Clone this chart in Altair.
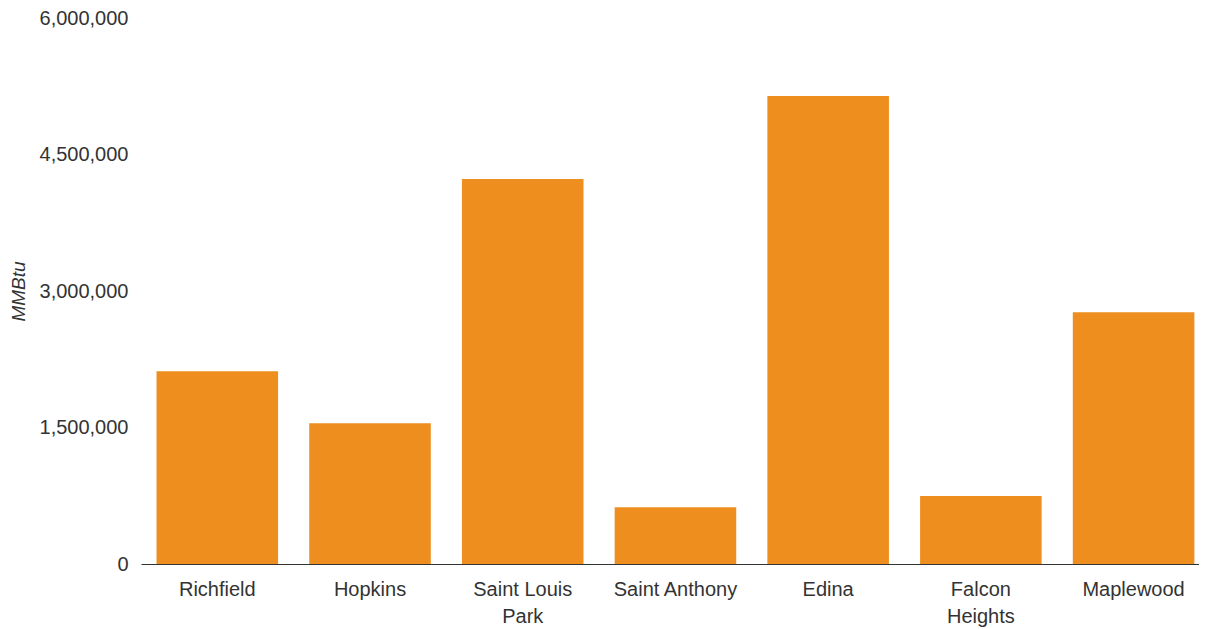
import altair as alt
import pandas as pd

cities = ["Richfield", "Hopkins", "Saint Louis Park", "Saint Anthony", "Edina", "Falcon Heights", "Maplewood"]
mmbtu = [2118000, 1546000, 4231000, 623000, 5143000, 747000, 2766000]
y_ticks = [0, 1500000, 3000000, 4500000, 6000000]

df = pd.DataFrame({"city": cities, "mmbtu": mmbtu})

label_expr = ("datum.value == 'Saint Louis Park' ? ['Saint Louis', 'Park'] : "
              "datum.value == 'Falcon Heights' ? ['Falcon', 'Heights'] : datum.value")

chart = alt.Chart(df).mark_bar(color="#ED8E1F").encode(
    x=alt.X("city:N", sort=cities, title=None,
            scale=alt.Scale(paddingInner=0.204, paddingOuter=0.066, align=0.77),
            axis=alt.Axis(labelAngle=0, ticks=False, domain=True, domainColor="#333333",
                          domainWidth=1, labelColor="#333333", labelFont="Liberation Sans",
                          labelFontSize=20, labelPadding=15, labelLineHeight=27,
                          labelExpr=label_expr, grid=False)),
    y=alt.Y("mmbtu:Q", title="MMBtu",
            scale=alt.Scale(domain=[0, 6000000], nice=False),
            axis=alt.Axis(values=y_ticks, format=",.0f",
                          ticks=False, domain=False, grid=False,
                          labelColor="#333333", labelFont="Liberation Sans",
                          labelFontSize=20, labelPadding=13,
                          titleFont="Liberation Sans", titleFontSize=19,
                          titleFontStyle="italic", titleFontWeight="normal",
                          titleColor="#333333", titleX=-123, titleY=273,
                          titleAngle=270, titleAlign="center", titleBaseline="middle")),
).properties(
    width=1058, height=546,
    autosize=alt.AutoSizeParams(type="none"),
    padding={"left": 133, "top": 10, "right": 0, "bottom": 64},
).configure_view(stroke=None)

chart.save("out.html", embed_options={"renderer": "svg", "actions": False})
